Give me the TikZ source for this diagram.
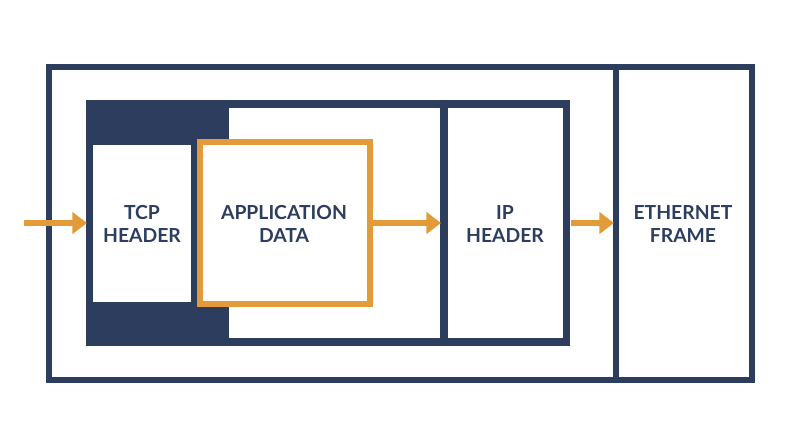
\documentclass[tikz,border=0pt]{standalone}
\usepackage{fontspec}
\setmainfont{Lato}
\usetikzlibrary{arrows.meta}
\definecolor{navy}{HTML}{2C3D5E}
\definecolor{amber}{HTML}{E39A38}
\begin{document}
\begin{tikzpicture}[x=0.75pt,y=-0.75pt,
  frame/.style={draw=navy,line width=4.5pt},
  lbl/.style={text=navy,font=\bfseries\fontsize{14.5}{17}\selectfont,align=center},
  arr/.style={draw=amber,line width=4.3pt,-{Triangle[length=11pt,width=16pt]}}]
\useasboundingbox (0,0) rectangle (800,447);
% outer ethernet frame
\draw[frame] (49,67) rectangle (752,380);
\draw[frame] (616,67) -- (616,380);
% IP packet
\fill[navy] (86,100) rectangle (570,346);
\fill[white] (229,108) rectangle (440,338);
\fill[white] (448,108) rectangle (563,338);
% TCP header
\fill[white] (93,145) rectangle (191,302);
% application data
\draw[draw=amber,line width=3.8pt,fill=white] (200,142) rectangle (370,304);
\node[lbl] (tcp) at (142,224) {TCP\\HEADER};
\node[lbl] (app) at (284,224) {APPLICATION\\DATA};
\node[lbl] (ip) at (505,224) {IP\\HEADER};
\node[lbl] (eth) at (683,224) {ETHERNET\\FRAME};
\coordinate (in) at (24,223);
\coordinate (tcpl) at (87,223);
\coordinate (appr) at (372,223);
\coordinate (ipl) at (441,223);
\coordinate (ipr) at (571,223);
\coordinate (ethl) at (614,223);
\draw[arr] (in) -- (tcpl);
\draw[arr] (appr) -- (ipl);
\draw[arr] (ipr) -- (ethl);
\end{tikzpicture}
\end{document}
